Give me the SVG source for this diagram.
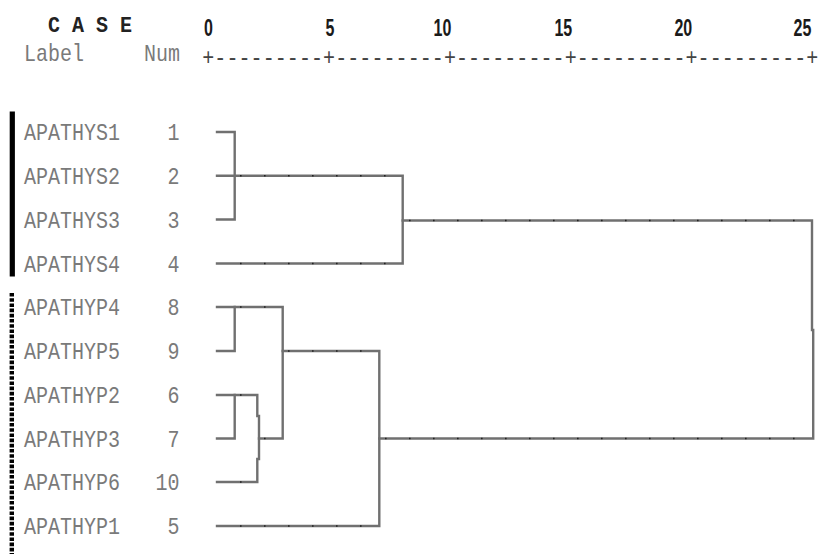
<svg xmlns="http://www.w3.org/2000/svg" width="819" height="554" viewBox="0 0 819 554">
<style>
.lbl{font-family:"Courier New","Liberation Mono",monospace;font-size:20px;fill:#7a7a7a;}
.num{font-family:"Courier New","Liberation Mono",monospace;font-size:20px;fill:#7a7a7a;text-anchor:end;}
.hdr{font-family:"Courier New","Liberation Mono",monospace;font-size:20px;font-weight:bold;fill:#222;}
.tick{font-family:"Liberation Sans",Arial,sans-serif;font-size:20px;font-weight:bold;fill:#1a1a1a;text-anchor:middle;}
.axis{font-family:"Courier New","Liberation Mono",monospace;font-size:20px;fill:#444;}
.ln{fill:none;stroke:#707070;stroke-width:2.4;stroke-linejoin:miter;stroke-linecap:square;}
.dots{fill:none;stroke:#222;stroke-width:1.6;stroke-dasharray:1.6 22.4;}
</style>
<rect width="819" height="554" fill="#fff"/>
<g id="header">
<text class="hdr" transform="translate(48,32) scale(1,1.12)">C A S E</text>
<text class="tick" transform="translate(208.5,36) scale(0.8,1.18)">0</text>
<text class="tick" transform="translate(330,36) scale(0.8,1.18)">5</text>
<text class="tick" transform="translate(442.5,36) scale(0.8,1.18)">10</text>
<text class="tick" transform="translate(563.3,36) scale(0.8,1.18)">15</text>
<text class="tick" transform="translate(683.3,36) scale(0.8,1.18)">20</text>
<text class="tick" transform="translate(802.5,36) scale(0.8,1.18)">25</text>
<text class="lbl" transform="translate(24,61) scale(1,1.2)">Label</text>
<text class="lbl" transform="translate(144,61) scale(1,1.2)">Num</text>
<text class="axis" transform="translate(202.3,65) scale(1,1.2)" textLength="616" lengthAdjust="spacing">+---------+---------+---------+---------+---------+</text>
</g>
<g id="group-bars">
<line x1="12.3" y1="111.5" x2="12.3" y2="276.5" stroke="#000" stroke-width="5.2"/>
<line x1="11.8" y1="293" x2="11.8" y2="554" stroke="#000" stroke-width="4.4" stroke-dasharray="3.6 1.6"/>
</g>
<g id="leaf-1"><text class="lbl" transform="translate(24,140) scale(1,1.2)">APATHYS1</text><text class="num" transform="translate(179.5,140) scale(1,1.2)">1</text></g>
<g id="leaf-2"><text class="lbl" transform="translate(24,183.7) scale(1,1.2)">APATHYS2</text><text class="num" transform="translate(179.5,183.7) scale(1,1.2)">2</text></g>
<g id="leaf-3"><text class="lbl" transform="translate(24,227.5) scale(1,1.2)">APATHYS3</text><text class="num" transform="translate(179.5,227.5) scale(1,1.2)">3</text></g>
<g id="leaf-4"><text class="lbl" transform="translate(24,271.5) scale(1,1.2)">APATHYS4</text><text class="num" transform="translate(179.5,271.5) scale(1,1.2)">4</text></g>
<g id="leaf-8"><text class="lbl" transform="translate(24,315) scale(1,1.2)">APATHYP4</text><text class="num" transform="translate(179.5,315) scale(1,1.2)">8</text></g>
<g id="leaf-9"><text class="lbl" transform="translate(24,359) scale(1,1.2)">APATHYP5</text><text class="num" transform="translate(179.5,359) scale(1,1.2)">9</text></g>
<g id="leaf-6"><text class="lbl" transform="translate(24,403) scale(1,1.2)">APATHYP2</text><text class="num" transform="translate(179.5,403) scale(1,1.2)">6</text></g>
<g id="leaf-7"><text class="lbl" transform="translate(24,446.5) scale(1,1.2)">APATHYP3</text><text class="num" transform="translate(179.5,446.5) scale(1,1.2)">7</text></g>
<g id="leaf-10"><text class="lbl" transform="translate(24,490) scale(1,1.2)">APATHYP6</text><text class="num" transform="translate(179.5,490) scale(1,1.2)">10</text></g>
<g id="leaf-5"><text class="lbl" transform="translate(24,534) scale(1,1.2)">APATHYP1</text><text class="num" transform="translate(179.5,534) scale(1,1.2)">5</text></g>
<g id="connectors">
<path class="ln" d="M217,132 H234.7 V219.5 H217"/>
<path class="ln" d="M217,175.7 H402.7 V263.5 H217"/>
<path class="ln" d="M402.7,220.5 H812 V330 M813.2,330 V438.5 H379.3"/>
<path class="ln" d="M217,307 H282.7 V438.5 H259"/>
<path class="ln" d="M217,351 H234.7 V307"/>
<path class="ln" d="M217,395 H257.3 V416 M259,416 V459 M257.3,459 V482 H217"/>
<path class="ln" d="M217,438.5 H234.7 V395"/>
<path class="ln" d="M282.7,351 H379.3 V526 H217"/>
<path class="dots" d="M240,175.7 H400 M240,263.5 H400 M240,307 H280 M240,395 H256 M240,482 H256 M240,526 H378 M288,351 H378 M264,438.5 H280 M409,220.5 H810 M385,438.5 H810"/>
</g>
</svg>
